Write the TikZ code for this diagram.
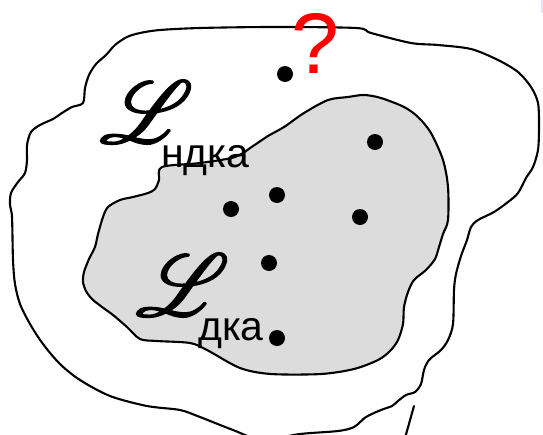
\documentclass[tikz,border=0pt]{standalone}
\usepackage{fontspec}
\usepackage{tikz}
\usetikzlibrary{calc}
\newfontfamily\labelfont{Liberation Sans}
\DeclareFontFamily{U}{scriptL}{}
\DeclareFontShape{U}{scriptL}{m}{n}{<->rsfs10}{}
\newcommand{\scriptLetter}{\special{pdf:literal direct 2 Tr 1.5 w}\usefont{U}{scriptL}{m}{n}L\special{pdf:literal direct 0 Tr}}
\definecolor{SetGrey}{HTML}{DCDCDC}
\definecolor{QuestionRed}{HTML}{FF0000}
\definecolor{EdgeLilac}{HTML}{E4E4F6}

\begin{document}
\begin{tikzpicture}[x=1pt,y=-1pt,line join=round,line cap=round,
  outline/.style={line width=2.1pt,black},
  elem/.style={circle,fill=black,inner sep=0pt,minimum size=16pt},
  bigL/.style={inner sep=0pt,font=\fontsize{88}{88}\selectfont},
  subtext/.style={inner sep=0pt,anchor=base west,font=\labelfont\fontsize{41}{41}\selectfont}]
  \useasboundingbox (0,0) rectangle (543,434);
  \clip (0,0) rectangle (543,434);
  \fill[EdgeLilac] (541,0) rectangle (543,13);
  % outer set
  \draw[outline,fill=white] plot[smooth cycle,tension=0.5] coordinates {
    (115,45) (127,37) (140,33) (160,30) (200,28) (272,27) (356,28) (371,33)
    (411,43) (438,45) (471,49) (498,60) (518,72) (531,87) (538,103) (539,127)
    (538,150) (533,167) (526,178) (518,193) (508,202) (494,212) (478,220)
    (471,227) (467,240) (461,256) (456,274) (454,290) (453,324) (448,340)
    (441,350) (429,360) (424,370) (421,384) (415,392) (406,395) (398,401)
    (392,406) (381,410) (366,417) (354,427) (338,431) (300,434) (262,440)
    (233,430) (200,417) (180,410) (147,406) (110,396) (80,380) (60,364)
    (43,344) (30,324) (20,304) (15,284) (13,260) (12,217) (10,205) (11,193)
    (18,182) (25,173) (27,160) (27,145) (31,132) (40,125) (53,119) (62,113)
    (72,107) (83,103) (85,88) (89,75) (96,64) (106,55)};
  % inner set
  \draw[outline,fill=SetGrey] plot[smooth cycle,tension=0.5] coordinates {
    (162,167) (200,163) (235,157) (253,146) (268,136) (284,127) (304,113)
    (328,100) (348,97) (364,95) (381,98) (404,107) (418,117) (431,133)
    (443,160) (448,187) (448,220) (443,234) (439,247) (435,259) (426,270)
    (414,280) (408,292) (404,307) (403,324) (398,340) (390,351) (378,360)
    (354,369) (321,374) (271,374) (240,368) (207,350) (190,343) (157,341)
    (140,339) (127,327) (113,315) (102,307) (92,299) (86,291) (83,282)
    (84,272) (89,259) (95,247) (98,234) (103,217) (108,207) (120,200)
    (133,197) (148,193) (155,189) (159,180)};
  \coordinate (stubtop) at (414,406);
  \coordinate (stubbot) at (405,438);
  \draw[outline] (stubtop) -- (stubbot);
  % elements
  \node[elem] (e1) at (285,74) {};
  \node[elem] (e2) at (375,142) {};
  \node[elem] (e3) at (277,195) {};
  \node[elem] (e4) at (231,209) {};
  \node[elem] (e5) at (360,217) {};
  \node[elem] (e6) at (269,263) {};
  \node[elem] (e7) at (277,338) {};
  % labels
  \node[bigL] (outerL) at (138,112) {\scriptLetter};
  \node[subtext] (outersub) at (161,167) {ндка};
  \node[bigL] (innerL) at (174,285) {\scriptLetter};
  \node[subtext] (innersub) at (198,340) {дка};
  \node[inner sep=0pt,anchor=base west,QuestionRed,
    font=\labelfont\fontsize{86}{86}\selectfont] (query) at (291,73) {?};
\end{tikzpicture}
\end{document}
